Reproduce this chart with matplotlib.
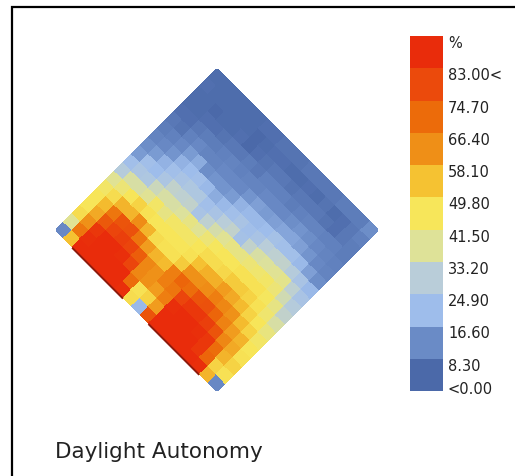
import numpy as np
import matplotlib
matplotlib.use("Agg")
import matplotlib.pyplot as plt
from matplotlib.colors import LinearSegmentedColormap, ListedColormap, Normalize
from matplotlib.patches import Rectangle
from matplotlib import transforms

# daylight autonomy (%) per sensor cell; row 0 sits on the window wall,
# each row steps one cell further into the room, columns run along the wall
da_rows = [
    [12, 54, 88, 90, 91, 90, 89, 86, 48, 20, 76, 88, 91, 91, 90, 89, 86, 56, 12],
    [38, 68, 86, 90, 91, 90, 88, 70, 47, 50, 60, 88, 90, 90, 88, 84, 72, 50, 47],
    [48, 62, 84, 88, 88, 86, 80, 64, 62, 60, 66, 86, 88, 88, 86, 84, 70, 56, 50],
    [46, 58, 75, 80, 82, 80, 74, 64, 62, 66, 68, 80, 84, 84, 82, 76, 64, 58, 47],
    [46, 55, 68, 76, 77, 68, 60, 56, 55, 66, 72, 70, 76, 77, 72, 65, 60, 56, 46],
    [44, 48, 56, 56, 63, 56, 48, 47, 47, 52, 62, 62, 63, 66, 64, 62, 55, 50, 44],
    [38, 42, 46, 50, 47, 46, 46, 46, 46, 47, 54, 57, 57, 60, 58, 55, 50, 46, 41],
    [28, 36, 36, 38, 44, 40, 44, 44, 44, 46, 48, 48, 49, 52, 52, 50, 47, 43, 36],
    [22, 25, 26, 33, 36, 36, 37, 40, 38, 42, 45, 46, 46, 47, 47, 47, 45, 40, 31],
    [15, 22, 21, 25, 31, 30, 31, 24, 30, 35, 38, 40, 40, 42, 43, 44, 42, 34, 28],
    [13, 15, 19, 22, 24, 26, 26, 22, 24, 29, 31, 23, 31, 36, 37, 38, 39, 30, 24],
    [11, 12, 14, 19, 21, 22, 20, 18, 20, 22, 24, 22, 24, 29, 30, 31, 28, 24, 20],
    [9, 10, 12, 15, 18, 13, 14, 14, 15, 19, 20, 20, 21, 23, 22, 22, 20, 16, 13],
    [8, 7, 10, 12, 11, 11, 12, 12, 12, 14, 16, 15, 16, 17, 17, 16, 14, 12, 11],
    [6, 6, 8, 9, 9, 10, 11, 10, 11, 11, 12, 12, 12, 13, 14, 13, 12, 11, 10],
    [5, 5, 6, 6, 7, 8, 8, 9, 8, 10, 10, 10, 9, 10, 11, 11, 10, 10, 9],
    [5, 5, 4, 5, 5, 6, 4, 6, 7, 8, 8, 7, 8, 8, 8, 7, 6, 8, 9],
    [6, 5, 5, 5, 5, 5, 4, 5, 6, 6, 5, 5, 6, 5, 7, 5, 6, 8, 10],
    [5, 5, 5, 5, 5, 5, 6, 6, 7, 7, 7, 8, 8, 8, 8, 9, 9, 9, 13],
]

# window openings along the wall (first / last cell edge)
windows = [(2, 8), (11, 17)]

# legend steps, bottom to top
legend_colors = ["#4B69A9", "#6A8BC6", "#9EBDEB", "#B9CDD9", "#DEE298", "#F7E65A",
                 "#F5C232", "#EF8F17", "#EC6B0A", "#EB4A0C", "#E92C0B"]
legend_labels = ["<0.00", "8.30", "16.60", "24.90", "33.20", "41.50",
                 "49.80", "58.10", "66.40", "74.70", "83.00<", "%"]
step = 8.3
title = "Daylight Autonomy"

W, H = 515, 476


def px_box(x0, y0, x1, y1):
    return [x0 / W, 1 - y1 / H, (x1 - x0) / W, (y1 - y0) / H]


da = np.array(da_rows, dtype=float)
n = da.shape[0]
nc = len(legend_colors)

nodes = [(0.0, legend_colors[0])]
nodes += [((k + 0.5) / nc, c) for k, c in enumerate(legend_colors)]
nodes += [(1.0, legend_colors[-1])]
cmap = LinearSegmentedColormap.from_list("da", nodes)
norm = Normalize(0, step * nc)

fig = plt.figure(figsize=(W / 100, H / 100), dpi=100)

# grid turned 45 degrees: columns go down-right, rows go up-right
ax = fig.add_axes(px_box(56, 69, 378, 391))
ii, jj = np.meshgrid(np.arange(n + 1), np.arange(n + 1))
ax.pcolormesh(ii + jj, jj - ii, da, cmap=cmap, norm=norm, shading="flat",
              edgecolors="face", linewidth=0.2)

shade = transforms.offset_copy(ax.transData, fig=fig, x=-0.8, y=-0.8, units="dots")
for a, b in windows:
    ax.plot([a, b], [-a, -b], color="#8E1A0C", lw=1.4, solid_capstyle="butt",
            transform=shade)

ax.set_xlim(0, 2 * n)
ax.set_ylim(-n, n)
ax.set_aspect("equal")
ax.axis("off")

# legend bar
lg = fig.add_axes(px_box(410, 36, 443, 391))
lg.imshow(np.arange(nc).reshape(-1, 1), cmap=ListedColormap(legend_colors),
          aspect="auto", origin="lower", extent=(0, 1, 0, nc), interpolation="nearest")
lg.set_xlim(0, 1)
lg.set_ylim(0, nc)
lg.axis("off")
lg.text(1.15, 0.05, legend_labels[0], va="center", ha="left", fontsize=10.5, color="#222222")
for k, lab in enumerate(legend_labels[1:], start=1):
    lg.text(1.15, k, lab, va="top", ha="left", fontsize=10.5, color="#222222")

fig.text(55 / W, 1 - 458 / H, title, fontsize=15.5, va="baseline", ha="left", color="#222222")

fig.add_artist(Rectangle((11.5 / W, -0.05), 1.0, 1 - 7.5 / H + 0.05,
                         transform=fig.transFigure, fill=False,
                         edgecolor="black", linewidth=1.6))

fig.savefig("out.png", dpi=100, facecolor="white")
